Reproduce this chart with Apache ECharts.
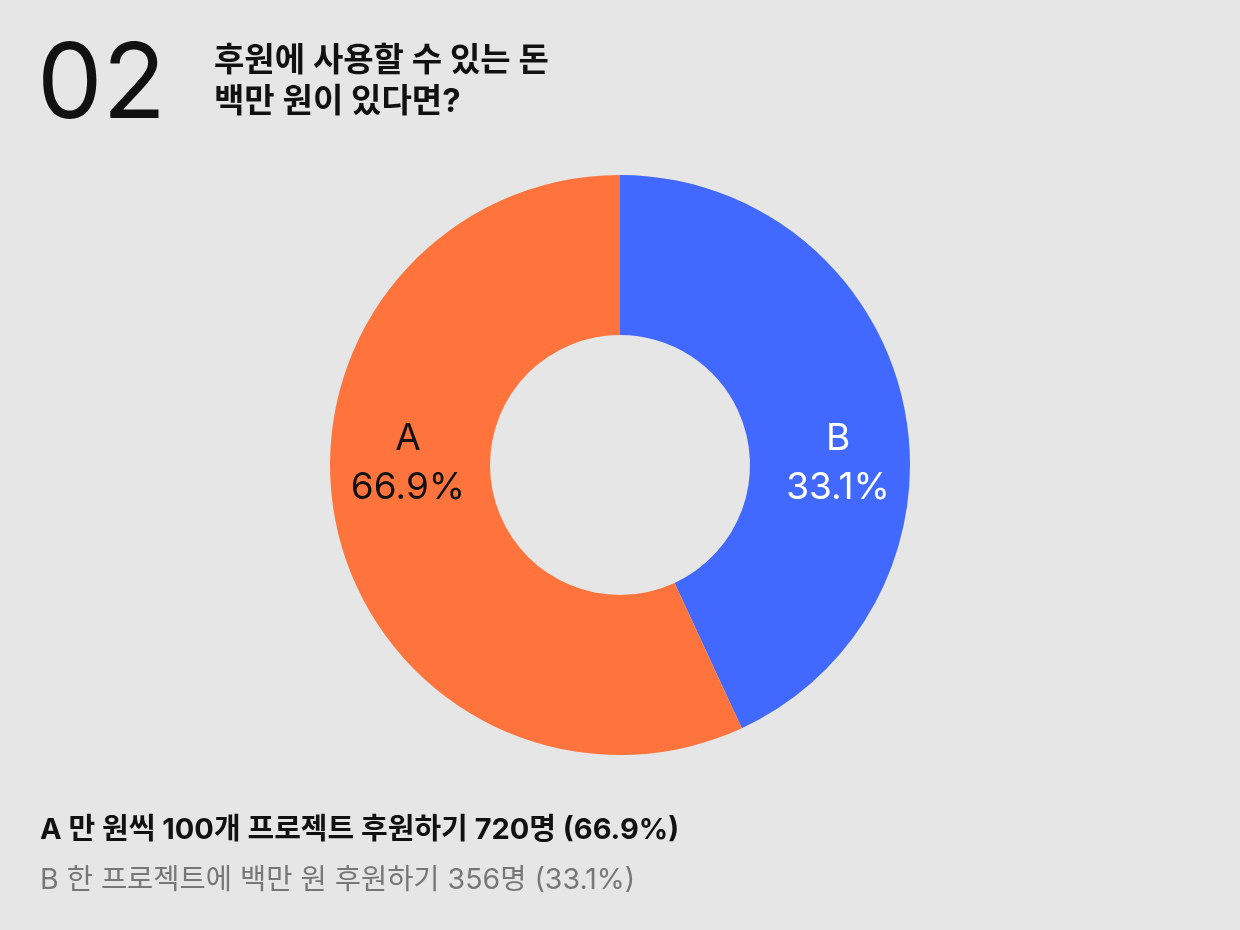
<!DOCTYPE html>
<html>
<head>
<meta charset="utf-8">
<script src="https://cdn.jsdelivr.net/npm/echarts@6/dist/echarts.min.js"></script>
<style>
  html, body { margin: 0; padding: 0; background: #e6e6e6; }
  #main { width: 1240px; height: 930px; }
</style>
</head>
<body>
<div id="main"></div>
<script>
const names = ['B', 'A']
// counts and percentages printed in the texts
const counts = [356, 720]
// arc sizes as drawn in the picture (the blue arc is drawn larger than its label)
const arcShares = [43.1, 56.9]
const colors = ['#4169ff', '#ff743c']
const labelColors = ['#ffffff', '#111111']
const descriptions = {
  A: '만 원씩 100개 프로젝트 후원하기',
  B: '한 프로젝트에 백만 원 후원하기'
}

const FONT = 'Inter, "Noto Sans CJK KR", sans-serif'
const total = counts.reduce((a, b) => a + b, 0)
const pct = i => (counts[i] / total * 100).toFixed(1)

const center = [620, 465]
const radius = [130, 290]

const chart = echarts.init(document.getElementById('main'))

const option = {
  backgroundColor: '#e6e6e6',
  title: [
    {
      text: '02',
      left: 32, top: 30,
      textStyle: { fontFamily: FONT, fontSize: 104, fontWeight: 400, color: '#111' }
    },
    {
      text: '후원에 사용할 수 있는 돈\n백만 원이 있다면?',
      left: 209, top: 36,
      textStyle: { fontFamily: FONT, fontSize: 33, fontWeight: 'bold', color: '#111', lineHeight: 41 }
    }
  ],
  legend: {
    orient: 'vertical',
    left: 30, top: 811,
    icon: 'none',
    itemWidth: 0,
    itemGap: 21,
    selectedMode: false,
    data: [
      { name: 'A', textStyle: { fontWeight: 'bold', color: '#111', fontSize: 29 } },
      { name: 'B', textStyle: { fontWeight: 'normal', color: '#777', fontSize: 28.5 } }
    ],
    textStyle: { fontFamily: FONT, fontSize: 29 },
    formatter: name => {
      const i = names.indexOf(name)
      return name + ' ' + descriptions[name] + ' ' + counts[i] + '명 (' + pct(i) + '%)'
    }
  },
  series: [{
    type: 'pie',
    center: center,
    radius: radius,
    startAngle: 90,
    clockwise: true,
    silent: true,
    label: {
      show: true,
      position: 'inside',
      formatter: p => p.name + '\n' + pct(p.dataIndex) + '%',
      fontFamily: FONT,
      fontSize: 37,
      lineHeight: 49,
      align: 'center'
    },
    labelLine: { show: false },
    labelLayout: p => ({
      x: center[0] + (names[p.dataIndex] === 'A' ? -212 : 218),
      y: center[1] - 2,
      align: 'center',
      verticalAlign: 'middle'
    }),
    data: names.map((n, i) => ({
      name: n,
      value: arcShares[i],
      itemStyle: { color: colors[i] },
      label: { color: labelColors[i] }
    }))
  }]
}

chart.setOption(option)
</script>
</body>
</html>
